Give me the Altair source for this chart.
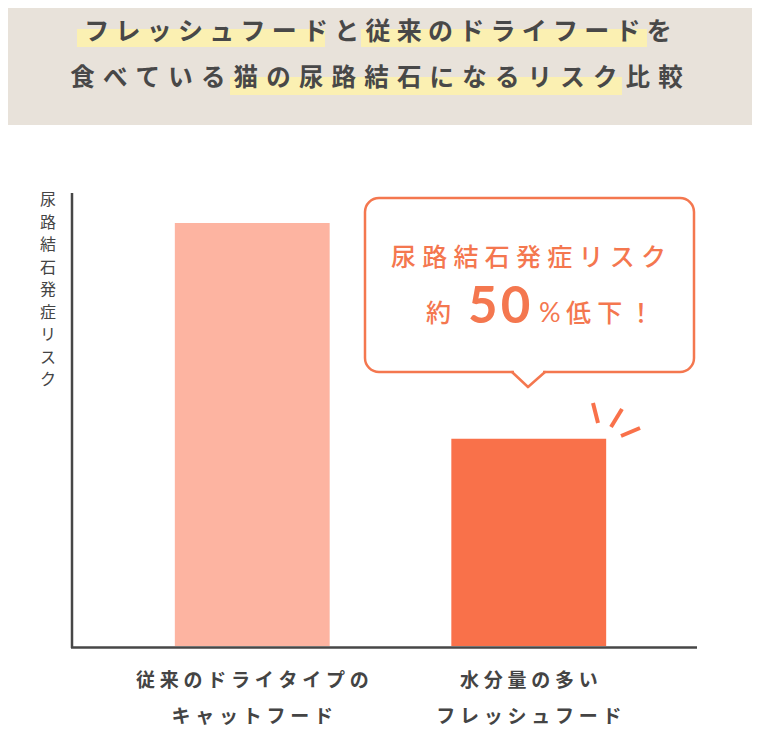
import altair as alt
import pandas as pd

# ---- data ----
categories = ["従来のドライタイプの\nキャットフード", "水分量の多い\nフレッシュフード"]
values = [100, 49]
bar_colors = ["#FDB4A1", "#F9714A"]

title_line1 = "フレッシュフードと従来のドライフードを"
title_line2 = "食べている猫の尿路結石になるリスク比較"
y_title = "尿路結石発症リスク"
callout_line1 = "尿路結石発症リスク"
callout_prefix = "約"
callout_number = "50"
callout_unit = "%"
callout_suffix = "低下！"

# ---- style ----
W, H = 744, 736
JP = "Noto Sans CJK JP"
NUM = "Lato"
ORANGE = "#F4774F"
AX = "#474747"
TXT = "#484848"
HL = "#FBF0B2"
BG = "#E8E2DA"


def spaced(s, sp):
    return "\n".join(sp.join(line) for line in s.split("\n"))


df = pd.DataFrame({
    "cat": categories,
    "value": values,
    "label": [spaced(c, "\u2005") for c in categories],
})
one = pd.DataFrame({"k": [0]})


def deco():
    return alt.Chart(one)


xscale = alt.Scale(domain=categories, range=[106, 659], paddingInner=0.44, paddingOuter=0.22)

header = deco().mark_rect(fill=BG).encode(
    x=alt.value(0), x2=alt.value(W), y=alt.value(0), y2=alt.value(117))

hl1 = deco().mark_rect(fill=HL).encode(
    x=alt.value(69), x2=alt.value(317), y=alt.value(21), y2=alt.value(39))
hl2 = deco().mark_rect(fill=HL).encode(
    x=alt.value(353), x2=alt.value(639), y=alt.value(21), y2=alt.value(39))
hl3 = deco().mark_rect(fill=HL).encode(
    x=alt.value(222), x2=alt.value(614), y=alt.value(69), y2=alt.value(87))

t1 = deco().mark_text(text=spaced(title_line1, "\u2005"), font=JP, fontSize=25, fontWeight="bold",
                      color=TXT, align="center", baseline="alphabetic").encode(
    x=alt.value(370), y=alt.value(32))
t2 = deco().mark_text(text=spaced(title_line2, "\u2004"), font=JP, fontSize=24.5, fontWeight="bold",
                      color=TXT, align="center", baseline="alphabetic").encode(
    x=alt.value(368.5), y=alt.value(78))

bars = alt.Chart(df).mark_bar().encode(
    x=alt.X("cat:N", sort=categories, scale=xscale, axis=None),
    y=alt.Y("value:Q", scale=alt.Scale(domain=[0, 100], range=[638, 215]), axis=None),
    color=alt.Color("cat:N", scale=alt.Scale(domain=categories, range=bar_colors), legend=None),
)

labels = alt.Chart(df).mark_text(lineBreak="\n", font=JP, fontSize=19, fontWeight="bold", color="#444444",
                                 align="center", baseline="alphabetic", lineHeight=35.5).encode(
    x=alt.X("cat:N", sort=categories, scale=xscale, axis=None),
    y=alt.value(679),
    text="label:N",
)

yaxis = deco().mark_rule(color=AX, strokeWidth=2.5).encode(
    x=alt.value(64), y=alt.value(185), y2=alt.value(640))
xaxis = deco().mark_rule(color=AX, strokeWidth=2.5).encode(
    x=alt.value(63), x2=alt.value(689), y=alt.value(639.5))

ytitle = deco().mark_text(text=list(y_title), font=JP, fontSize=16, lineHeight=22.5, color="#444444",
                          align="center", baseline="alphabetic").encode(
    x=alt.value(40), y=alt.value(197))

box = deco().mark_rect(fill="white", stroke=ORANGE, strokeWidth=2.5, cornerRadius=14).encode(
    x=alt.value(357), x2=alt.value(686), y=alt.value(190), y2=alt.value(364))
gap = deco().mark_rule(color="white", strokeWidth=5).encode(
    x=alt.value(506), x2=alt.value(535), y=alt.value(364))
ptr1 = deco().mark_rule(color=ORANGE, strokeWidth=2.5, strokeCap="round").encode(
    x=alt.value(504), y=alt.value(364), x2=alt.value(520), y2=alt.value(379))
ptr2 = deco().mark_rule(color=ORANGE, strokeWidth=2.5, strokeCap="round").encode(
    x=alt.value(520), y=alt.value(379), x2=alt.value(537), y2=alt.value(364))

c1 = deco().mark_text(text=spaced(callout_line1, "\u2005"), font=JP, fontSize=25, fontWeight=500,
                      color=ORANGE, align="center", baseline="alphabetic").encode(
    x=alt.value(520.5), y=alt.value(258))
c2a = deco().mark_text(text=callout_prefix, font=JP, fontSize=25, fontWeight=500,
                       color=ORANGE, align="left", baseline="alphabetic").encode(
    x=alt.value(418), y=alt.value(314))
c2b = deco().mark_text(text=spaced(callout_number, "\u200a"), font=NUM, fontSize=51, fontWeight="bold",
                       color=ORANGE, align="left", baseline="alphabetic").encode(
    x=alt.value(460), y=alt.value(315))
c2c = deco().mark_text(text=callout_unit, font=NUM, fontSize=27,
                       color=ORANGE, align="left", baseline="alphabetic").encode(
    x=alt.value(531), y=alt.value(314))
c2d = deco().mark_text(text=spaced(callout_suffix, "\u2005"), font=JP, fontSize=25, fontWeight=500,
                       color=ORANGE, align="left", baseline="alphabetic").encode(
    x=alt.value(558), y=alt.value(314))

acc1 = deco().mark_rule(color="#F9714A", strokeWidth=4).encode(
    x=alt.value(585), y=alt.value(395), x2=alt.value(590), y2=alt.value(415))
acc2 = deco().mark_rule(color="#F9714A", strokeWidth=4).encode(
    x=alt.value(614), y=alt.value(401), x2=alt.value(603), y2=alt.value(419))
acc3 = deco().mark_rule(color="#F9714A", strokeWidth=4).encode(
    x=alt.value(632), y=alt.value(420), x2=alt.value(613), y2=alt.value(428))

chart = alt.layer(
    header, hl1, hl2, hl3, t1, t2,
    bars, labels, yaxis, xaxis, ytitle,
    box, gap, ptr1, ptr2, c1, c2a, c2b, c2c, c2d,
    acc1, acc2, acc3,
).properties(
    width=W, height=H, padding=0,
    autosize=alt.AutoSizeParams(type="none"),
).configure_view(strokeWidth=0)

chart.save("out.html", embed_options={"renderer": "svg", "actions": False})
